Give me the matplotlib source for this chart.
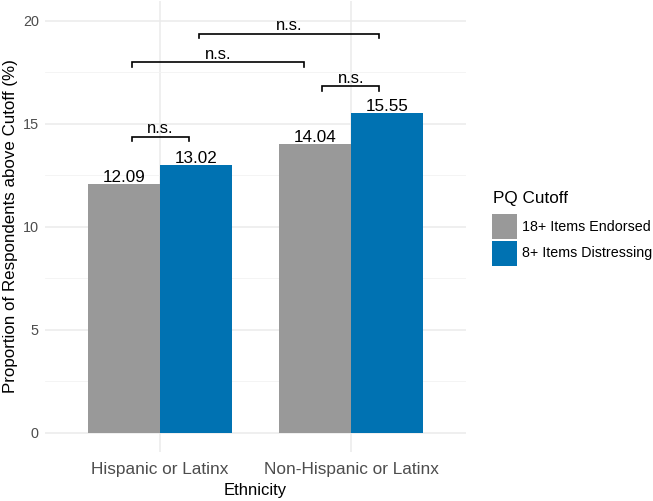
import numpy as np
import matplotlib.pyplot as plt
from matplotlib.patches import Rectangle

# data
ethnicity = ["Hispanic or Latinx", "Non-Hispanic or Latinx"]
cutoffs = ["18+ Items Endorsed", "8+ Items Distressing"]
endorsed = [12.09, 14.04]
distressing = [13.02, 15.55]
colors = ["#999999", "#0072B2"]

# significance brackets: (x_left, x_right, y, label)
bracket_x1 = [0.853, 0.853, 1.848, 1.204]
bracket_x2 = [1.152, 1.754, 2.147, 2.147]
bracket_y = [14.37, 18.0, 16.84, 19.37]
bracket_lab = ["n.s.", "n.s.", "n.s.", "n.s."]

plt.rcParams['font.family'] = ['Liberation Sans', 'DejaVu Sans']

W, H = 653, 501
fig = plt.figure(figsize=(W / 100, H / 100), dpi=100)
ax = fig.add_axes([45/W, 49/H, 421/W, 451/H])

x = np.arange(1, len(ethnicity) + 1)
w = 0.375
series = [endorsed, distressing]
for i, vals in enumerate(series):
    pos = x + (i - 0.5) * w
    ax.bar(pos, vals, width=w, color=colors[i], zorder=2)
    for p, v in zip(pos, vals):
        ax.text(p, v + 0.1, f"{v:.2f}", ha="center", va="baseline",
                fontsize=12.3, color="black", zorder=3)

tick = 0.22
for x1, x2, y, lab in zip(bracket_x1, bracket_x2, bracket_y, bracket_lab):
    ax.plot([x1, x1, x2, x2], [y - tick, y, y, y - tick], color="black",
            lw=1.2, zorder=3, solid_joinstyle="miter")
    ax.text((x1 + x2) / 2, y + 0.17, lab, ha="center", va="baseline",
            fontsize=12, color="black")

ax.set_xlim(0.4, 2.6)
ax.set_ylim(-0.93, 20.97)
ax.set_xticks(x)
ax.set_xticklabels(ethnicity, fontsize=12.4)
ax.set_yticks([0, 5, 10, 15, 20])
ax.set_yticks([2.5, 7.5, 12.5, 17.5], minor=True)
ax.tick_params(axis="both", which="both", length=0, labelcolor="#4D4D4D")
ax.tick_params(axis="y", labelsize=10.4, pad=4.5)
ax.tick_params(axis="x", pad=7)
ax.grid(which="major", color="#EBEBEB", lw=1.1, zorder=0)
ax.grid(which="minor", axis="y", color="#F3F3F3", lw=0.6, zorder=0)
for s in ax.spines.values():
    s.set_visible(False)
ax.set_axisbelow(True)

ax.set_xlabel("Ethnicity", fontsize=12, labelpad=4.5)
ax.set_ylabel("Proportion of Respondents above Cutoff (%)", fontsize=12.2)
ax.yaxis.set_label_coords(-0.064, 0.5)

# legend, laid out in figure pixels like ggplot's guide
fig.text(493/W, 1 - 203/H, "PQ Cutoff", fontsize=12.3, ha="left",
         va="baseline")
key_top = [214, 241]
for c, lab, top in zip(colors, cutoffs, key_top):
    fig.add_artist(Rectangle((492/W, 1 - (top + 24.5)/H), 25/W, 24.5/H,
                             transform=fig.transFigure, facecolor=c,
                             edgecolor="none"))
    fig.text(522/W, 1 - (top + 12.5)/H, lab, fontsize=10.3, ha="left",
             va="center")

fig.savefig("out.png", dpi=100)
